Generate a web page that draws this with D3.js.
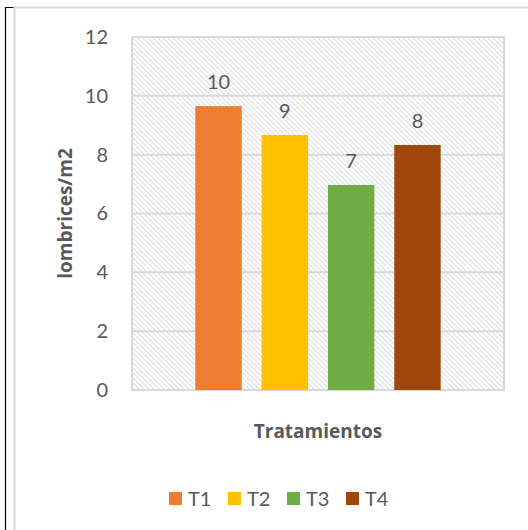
<!DOCTYPE html>
<html>
<head>
<meta charset="utf-8">
<script src="https://cdn.jsdelivr.net/npm/d3@7"></script>
<style>
  body { margin: 0; background: #fff; }
  text { font-family: Lato, "Open Sans", sans-serif; fill: #595959; }
</style>
</head>
<body>
<svg id="chart" width="528" height="530"></svg>
<script>
// data
const series = ['T1', 'T2', 'T3', 'T4'];
const values = [9.65, 8.67, 6.97, 8.33];
const colors = ['#ED7D31', '#FFC000', '#70AD47', '#9E480E'];
const yTicks = [0, 2, 4, 6, 8, 10, 12];
const category = ['Tratamientos'];

const svg = d3.select('#chart');
const plot = { left: 132, right: 504, top: 37, bottom: 390 };

// frame bits
svg.append('path')
  .attr('d', 'M14,7.5 H5.5 V530')
  .attr('fill', 'none').attr('stroke', '#000').attr('stroke-width', 1.2);
svg.append('path')
  .attr('d', 'M14.5,530 V7.5 H528')
  .attr('fill', 'none').attr('stroke', '#d9d9d9').attr('stroke-width', 2);

// hatch pattern for plot area
const pat = svg.append('defs').append('pattern')
  .attr('id', 'hatch')
  .attr('patternUnits', 'userSpaceOnUse')
  .attr('width', 5).attr('height', 5);
pat.append('rect').attr('width', 5).attr('height', 5).attr('fill', '#fff');
pat.append('path')
  .attr('d', 'M-1,-1 L6,6 M-1,4 L1,6 M4,-1 L6,1')
  .attr('stroke', '#e0e0e0').attr('stroke-width', 1.2);

const y = d3.scaleLinear().domain([0, 12]).range([plot.bottom, plot.top]);
const x0 = d3.scaleBand().domain(category).range([plot.left, plot.right]).paddingInner(0).paddingOuter(0.258);
const x1 = d3.scaleBand().domain(series).range([0, x0.bandwidth()]).paddingInner(0.3);

svg.append('rect')
  .attr('x', plot.left).attr('y', plot.top)
  .attr('width', plot.right - plot.left).attr('height', plot.bottom - plot.top)
  .attr('fill', 'url(#hatch)');

// gridlines
svg.append('g').selectAll('line')
  .data(yTicks)
  .enter().append('line')
  .attr('x1', plot.left).attr('x2', plot.right)
  .attr('y1', d => y(d)).attr('y2', d => y(d))
  .attr('stroke', '#d9d9d9').attr('stroke-width', 2);

svg.append('rect')
  .attr('x', plot.left).attr('y', plot.top)
  .attr('width', plot.right - plot.left).attr('height', plot.bottom - plot.top)
  .attr('fill', 'none').attr('stroke', '#d9d9d9').attr('stroke-width', 2);

// y tick labels
const yAxis = svg.append('g')
  .attr('transform', `translate(${plot.left - 24},0)`)
  .call(d3.axisLeft(y).tickValues(yTicks).tickSize(0).tickPadding(0));
yAxis.select('.domain').remove();
yAxis.selectAll('text')
  .style('font-family', 'Lato, "Open Sans", sans-serif')
  .style('font-size', '20px')
  .attr('fill', '#595959');

// bars
const g = svg.append('g').attr('transform', `translate(${x0(category[0])},0)`);
g.selectAll('rect')
  .data(values)
  .enter().append('rect')
  .attr('x', (d, i) => x1(series[i]))
  .attr('y', d => y(d))
  .attr('width', x1.bandwidth())
  .attr('height', d => y(0) - y(d))
  .attr('fill', (d, i) => colors[i]);

// value labels
g.selectAll('text.val')
  .data(values)
  .enter().append('text')
  .attr('class', 'val')
  .attr('x', (d, i) => x1(series[i]) + x1.bandwidth() / 2)
  .attr('y', d => y(d) - 17)
  .attr('text-anchor', 'middle')
  .style('font-size', '20px')
  .text(d => d3.format('.0f')(d));

// axis titles
svg.append('text')
  .attr('x', (plot.left + plot.right) / 2).attr('y', 438)
  .attr('text-anchor', 'middle')
  .style('font-family', '"Open Sans", Lato, sans-serif')
  .style('font-size', '19px').style('font-weight', 'bold')
  .text(category[0]);

svg.append('text')
  .attr('transform', `translate(72,${(plot.top + plot.bottom) / 2}) rotate(-90)`)
  .attr('text-anchor', 'middle')
  .style('font-family', '"Open Sans", Lato, sans-serif')
  .style('font-size', '19px').style('font-weight', 'bold')
  .text('lombrices/m2');

// legend
const legend = svg.append('g').attr('transform', 'translate(169,492)');
const item = legend.selectAll('g')
  .data(series)
  .enter().append('g')
  .attr('transform', (d, i) => `translate(${i * 59},0)`);
item.append('rect')
  .attr('width', 13).attr('height', 13)
  .attr('fill', (d, i) => colors[i]);
item.append('text')
  .attr('x', 19).attr('y', 14)
  .style('font-size', '20px')
  .text(d => d);
</script>
</body>
</html>
